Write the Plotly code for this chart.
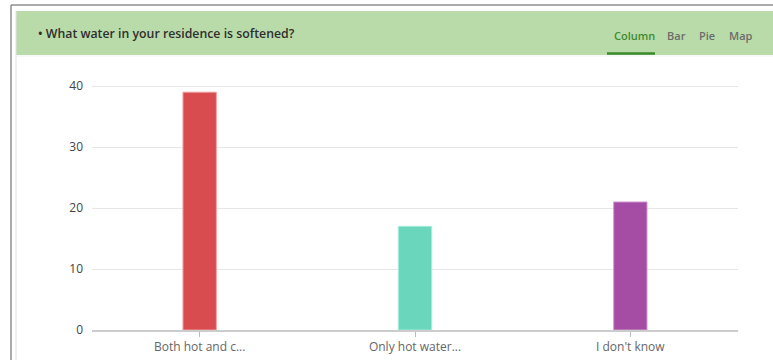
import plotly.graph_objects as go

categories = ["Both hot and c...", "Only hot water...", "I don't know"]
values = [39, 17, 21]
bar_colors = ["rgba(214,66,70,0.95)", "rgba(98,212,184,0.95)", "rgba(160,66,160,0.95)"]
bar_lines = ["rgba(240,160,160,1)", "rgba(170,235,220,1)", "rgba(210,160,210,1)"]
y_ticks = [0, 10, 20, 30, 40]
tabs = ["Column", "Bar", "Pie", "Map"]

W, H = 773, 360
L, R, T, B = 92, 35, 80, 30
PW, PH = W - L - R, H - T - B


def px(x):
    return (x - L) / PW


def py(y):
    return (H - B - y) / PH


fig = go.Figure()
fig.add_trace(go.Bar(
    x=categories, y=values,
    marker=dict(color=bar_colors, line=dict(color=bar_lines, width=1)),
    width=0.155, hoverinfo="skip",
))

shapes = []
# outer borders
shapes.append(dict(type="line", xref="paper", yref="paper", x0=px(11), x1=px(773), y0=py(5), y1=py(5),
                   line=dict(color="#8f8f8f", width=1.5)))
shapes.append(dict(type="line", xref="paper", yref="paper", x0=px(11), x1=px(11), y0=py(5), y1=py(362),
                   line=dict(color="#8f8f8f", width=1.5)))
shapes.append(dict(type="line", xref="paper", yref="paper", x0=px(16), x1=px(16), y0=py(11), y1=py(362),
                   line=dict(color="#e2e2e2", width=1)))
# header
shapes.append(dict(type="rect", xref="paper", yref="paper", x0=px(16), x1=px(774), y0=py(55), y1=py(11),
                   fillcolor="#b9dba9", line=dict(width=0), layer="below"))
shapes.append(dict(type="line", xref="paper", yref="paper", x0=px(16), x1=px(774), y0=py(56), y1=py(56),
                   line=dict(color="#eef3ec", width=1)))
# active tab underline
shapes.append(dict(type="line", xref="paper", yref="paper", x0=px(607), x1=px(655), y0=py(53.5), y1=py(53.5),
                   line=dict(color="#3b8a2e", width=2.5)))

annotations = [dict(text="• What water in your residence is softened?", xref="paper", yref="paper",
                    x=px(36), y=py(33), xanchor="left", yanchor="middle", showarrow=False,
                    font=dict(family="Open Sans", size=12.3, color="#2e2e2e", weight=600))]
tab_x = [612, 665, 697, 727]
for i, (t, xx) in enumerate(zip(tabs, tab_x)):
    annotations.append(dict(text=t, xref="paper", yref="paper", x=px(xx), y=py(35),
                            xanchor="left", yanchor="middle", showarrow=False,
                            font=dict(family="Open Sans", size=11, color="#3e8a32" if i == 0 else "#6b6b6b",
                                      weight=600)))

fig.update_layout(
    width=W, height=H,
    margin=dict(l=L, r=R, t=T, b=B, autoexpand=False),
    paper_bgcolor="white", plot_bgcolor="white",
    showlegend=False,
    shapes=shapes, annotations=annotations,
    font=dict(family="Open Sans", size=12, color="#444"),
    xaxis=dict(showgrid=False, showline=True, linecolor="#cccccc", linewidth=1.5,
               ticks="outside", ticklen=5, tickcolor="#bbbbbb", automargin=False,
               tickfont=dict(size=12, color="#666666"), fixedrange=True),
    yaxis=dict(range=[0, 41], tickvals=y_ticks, showgrid=True, gridcolor="#e6e6e6", gridwidth=1,
               zeroline=False, showline=False, ticks="", ticklabelstandoff=8, automargin=False,
               tickfont=dict(size=12, color="#444444"), fixedrange=True),
)

fig.write_html("out.html")
